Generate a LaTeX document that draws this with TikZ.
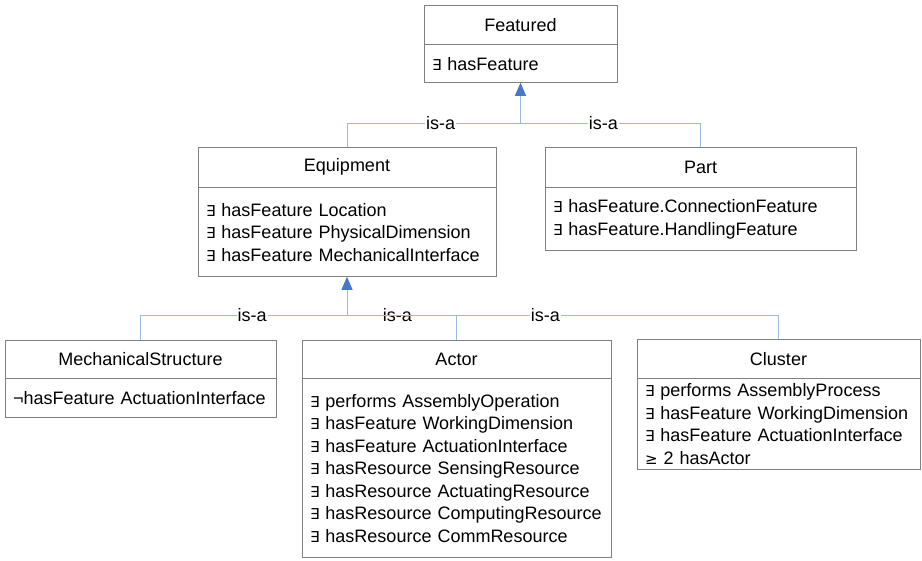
\documentclass[tikz,border=0pt]{standalone}
\usepackage{fontspec}
\setmainfont{Liberation Sans}
\newfontfamily\symfont{DejaVu Sans}
\usetikzlibrary{positioning,arrows.meta}
\definecolor{boxgray}{RGB}{128,128,128}
\definecolor{linkblue}{RGB}{155,185,225}
\definecolor{tipblue}{RGB}{70,120,200}
\newcommand{\ex}{{\symfont\fontsize{15}{22.5}\selectfont ∃}}
\newcommand{\gq}{{\symfont\fontsize{15}{22.5}\selectfont ≥}}
\hyphenpenalty=10000

\begin{document}
\begin{tikzpicture}[x=1pt, y=-1pt, font=\fontsize{18}{22.5}\selectfont,
    title/.style={draw=boxgray, rectangle, anchor=north, inner sep=0pt},
    attr/.style={draw=boxgray, rectangle, align=left, inner xsep=8pt, inner ysep=0pt},
    isa/.style={draw=linkblue, line width=0.9pt},
    tip/.style={-{Triangle[width=11pt,length=13pt,fill=tipblue,color=tipblue]}},
    lbl/.style={fill=white, inner sep=1pt, pos=0.77}]
        \useasboundingbox (0,0) rectangle (922,561);

        \node[title, minimum width=193pt, minimum height=39pt] (featured) at (520.5,5) {Featured};
        \node[attr, below=0pt of featured, text width=177pt, minimum height=38pt] (featuredattr) {\ex{} hasFeature};

        \node[title, minimum width=298pt, minimum height=40pt] (equipment) at (347,147) {Equipment};
        \node[attr, below=0pt of equipment, text width=282pt, minimum height=89pt] (equipmentattr) {\ex{} hasFeature Location\\ \ex{} hasFeature PhysicalDimension\\ \ex{} hasFeature MechanicalInterface};

        \node[title, minimum width=311pt, minimum height=40pt] (part) at (700.5,147) {Part};
        \node[attr, below=0pt of part, text width=295pt, minimum height=63pt] (partattr) {\ex{} hasFeature.ConnectionFeature\\ \ex{} hasFeature.HandlingFeature};

        \node[title, minimum width=271pt, minimum height=38pt] (mechstruct) at (140.5,340) {MechanicalStructure};
        \node[attr, below=0pt of mechstruct, text width=255pt, minimum height=39pt] (mechstructattr) {¬hasFeature ActuationInterface};

        \node[title, minimum width=309pt, minimum height=38pt] (actor) at (456.5,340) {Actor};
        \node[attr, below=0pt of actor, text width=293pt, minimum height=179pt] (actorattr) {\ex{} performs AssemblyOperation\\ \ex{} hasFeature WorkingDimension\\ \ex{} hasFeature ActuationInterface\\ \ex{} hasResource SensingResource\\ \ex{} hasResource ActuatingResource\\ \ex{} hasResource ComputingResource\\ \ex{} hasResource CommResource};

        \node[title, minimum width=283pt, minimum height=39pt] (cluster) at (778.5,339) {Cluster};
        \node[attr, below=0pt of cluster, text width=267pt, minimum height=91pt] (clusterattr) {\ex{} performs AssemblyProcess\\ \ex{} hasFeature WorkingDimension\\ \ex{} hasFeature ActuationInterface\\ \gq{} 2 hasActor};

        \coordinate (topjoin) at (520.5,123);
        \coordinate (midjoin) at (347,315);

        \draw[isa] (equipment.north) |- (topjoin) node[lbl] {is-a};
        \draw[isa] (part.north) |- (topjoin) node[lbl] {is-a};
        \draw[isa, tip] (topjoin) -- (featuredattr.south);

        \draw[isa] (mechstruct.north) |- (midjoin) node[lbl] {is-a};
        \draw[isa] (actor.north) |- (midjoin) node[lbl] {is-a};
        \draw[isa] (cluster.north) |- (midjoin) node[lbl] {is-a};
        \draw[isa, tip] (midjoin) -- (equipmentattr.south);
    \end{tikzpicture}
\end{document}
